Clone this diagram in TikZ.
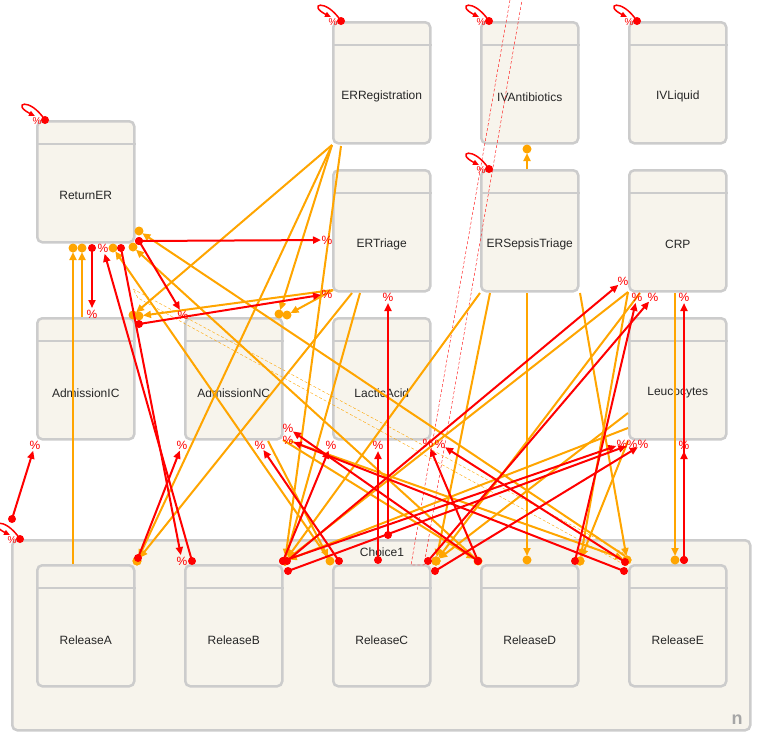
\documentclass[tikz,border=0pt]{standalone}
\usepackage{fontspec}
\setmainfont{Liberation Sans}
\usetikzlibrary{arrows.meta,calc}
\definecolor{boxfill}{HTML}{F7F4EC}
\definecolor{boxline}{HTML}{CCCCCC}
\definecolor{precorange}{HTML}{FFA500}

\begin{document}
\begin{tikzpicture}[x=1pt, y=-1pt,
  act/.style={draw=boxline, fill=boxfill, line width=2.5pt, rounded corners=5pt, anchor=north west,
    minimum width=97pt, minimum height=121pt, inner sep=0pt},
  actlabel/.style={font=\fontsize{12}{14}\selectfont, text=black!85},
  prec/.style={draw=precorange, line width=2pt, -{Triangle[length=8pt,width=7pt]}, shorten >=4pt},
  resp/.style={draw=red, line width=2pt, -{Triangle[length=8pt,width=7pt]}, shorten >=6pt},
  pct/.style={text=red, font=\fontsize{12}{12}\selectfont, inner sep=0pt}]
\useasboundingbox (0,0) rectangle (758,740);

%draw choice box
\node[act, minimum width=738pt, minimum height=190pt] (Choice1) at (11,539) {};
\node[actlabel] (Choice1-lbl) at (382,552) {Choice1};
\node[font=\bfseries\fontsize{18}{18}\selectfont, text=black!35] (Choice1-n) at (737,720) {n};

%draw activities
\foreach \n/\x/\y in {ReturnER/36/120, ERRegistration/332/21, IVAntibiotics/480/21, IVLiquid/628/21,
  ERTriage/332/169, ERSepsisTriage/480/169, CRP/628/169,
  AdmissionIC/36/317, AdmissionNC/184/317, LacticAcid/332/317, Leucocytes/628/317,
  ReleaseA/36/564, ReleaseB/184/564, ReleaseC/332/564, ReleaseD/480/564, ReleaseE/628/564}
{
  \node[act] (\n) at (\x,\y) {};
  \draw[boxline, line width=2.5pt] ([yshift=-24pt]\n.north west) -- ([yshift=-24pt]\n.north east);
  \node[actlabel] (\n-lbl) at ([yshift=-14pt]\n.center) {\n};
}

%draw ports
\foreach \p/\x/\y in {reA/73/248, reB/82/248, reC/92/248, reD/103/248, reE/113/248, reF/121/248,
  reG/133/247, reH/139/231, reI/139/241,
  icA/82/317, icB/92/314, icC/35/445, icD/133/315, icE/139/316, icF/139/324,
  ncA/183/315, ncB/182/445, ncC/279/314, ncD/287/315, ncE/283/440, ncF/290/441, ncG/268/441, ncH/260/445,
  rgA/332/145, rgB/341/146,
  trA/327/240, trB/327/294, trC/388/297, trD/333/290, trE/352/293, trF/360/293,
  stA/480/293, stB/490/293, stC/527/293, stD/580/293, stE/527/169, ivA/527/149,
  cA/628/292, cB/640/293, cC/675/293, cD/623/281, cE/653/297, cF/637/297, cG/684/297,
  lA/628/428, lB/628/413, lC/628/441, lD/684/445, lE/622/444, lF/632/444, lG/643/444,
  laA/331/445, laB/288/428, laC/288/440, laD/378/445, laE/428/443, laF/440/444,
  chA/12/519, aA/73/564, aB/137/561, aC/138/558, bA/192/561, bB/182/561,
  cpA/285/561, cpB/283/561, cpC/287/561, cpD/288/571, cpE/330/561, cpF/339/561, cpG/378/560, cpH/388/535,
  dA/436/561, dB/428/561, dC/435/571, dD/478/561, dE/527/560,
  eA/580/561, eB/575/561, eC/627/560, eD/624/571, eE/625/562, eF/675/560, eG/684/560, eH/625/556}
  \coordinate (\p) at (\x,\y);

%draw self loops
\foreach \n in {ReturnER, ERRegistration, IVAntibiotics, IVLiquid, ERSepsisTriage, Choice1}
{
  \coordinate (\n-self) at ([xshift=9pt]\n.north west);
  \draw[red, line width=1.5pt, -{Triangle[length=6pt,width=5pt]}] (\n-self)
    .. controls ($(\n-self)+(-16,-24)$) and ($(\n-self)+(-34,-16)$) .. ($(\n-self)+(-10,-4)$);
  \node[pct, font=\fontsize{10}{10}\selectfont] (\n-selfpct) at ($(\n-self)+(-8,1)$) {\%};
  \fill[red] (\n-self) circle (4pt);
}

%draw dashed links
\draw[red, densely dashed, thin] (510,0) -- (411,565) -- (424,565) -- (522,0);
\draw[precorange, densely dashed, thin] (133,289) -- (627,555) -- (627,566) -- (138,298) -- cycle;

%draw orange links
\foreach \a/\b in {aA/reA, icA/reB, cpE/reE, ncG/cpE, dD/reG, eH/reH, rgA/icD, trD/icE, rgA/ncC, trD/ncD,
  rgA/aB, trE/aB, rgB/cpA, trF/cpA, stA/cpA, cA/cpA, lA/cpA, stB/dA, lB/dA, cB/dA, stC/dE, stE/ivA,
  stD/eC, cA/eA, lC/eA, ncE/dD, ncF/eC, cC/eF}
{
  \draw[prec] (\a) -- (\b);
  \fill[precorange] (\b) circle (4.5pt);
}

%draw red links
\foreach \a/\b in {reC/icB, bA/reD, reF/bB, reI/trA, reI/ncA, icF/trB, chA/icC, aC/ncB, cpB/laA, cpF/ncH,
  dD/laB, eD/laC, cpG/laD, cpH/trC, dD/laE, eE/laF, cpC/cD, dB/cE, eB/cF, eG/lD, eG/cG, cpB/lE, cpD/lF, dC/lG}
{
  \draw[resp] (\a) -- (\b) node[pct] (\b-pct) {\%};
  \fill[red] (\a) circle (4pt);
}
\end{tikzpicture}
\end{document}
